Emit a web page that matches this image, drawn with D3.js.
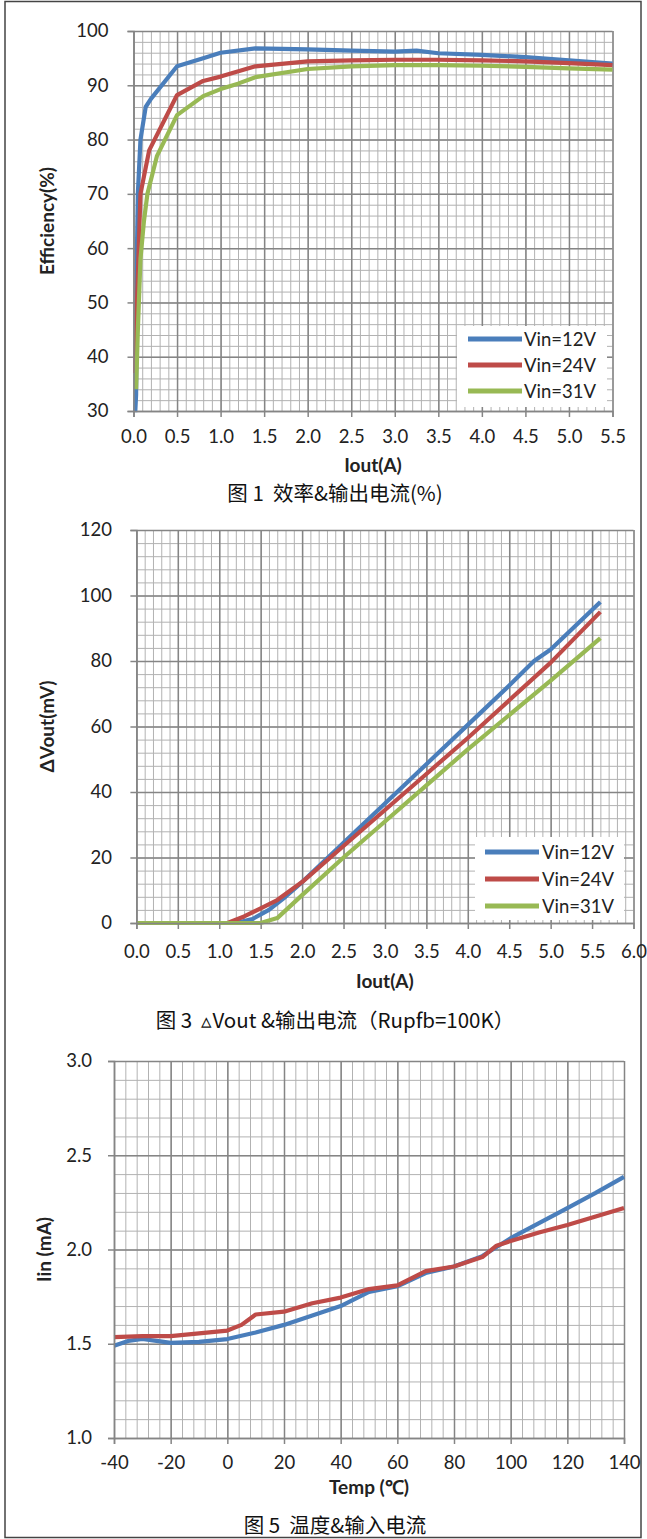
<!DOCTYPE html>
<html><head><meta charset="utf-8">
<script src="https://cdn.jsdelivr.net/npm/d3@7"></script>
<style>
body{margin:0;background:#fff}
svg{display:block}
.tick text{font-family:Lato,"Open Sans",sans-serif;fill:#222}
</style>
</head><body>
<svg id="c" width="647" height="1539"></svg>
<script>
// ---------- shared ----------
const seriesNames = ["Vin=12V", "Vin=24V", "Vin=31V"];
const seriesColors = ["#4a7ebb", "#be4b48", "#98b954"];

// ---------- chart 1: efficiency vs Iout ----------
const effXTicks = [0, 0.5, 1.0, 1.5, 2.0, 2.5, 3.0, 3.5, 4.0, 4.5, 5.0, 5.5];
const effYTicks = [30, 40, 50, 60, 70, 80, 90, 100];
const eff12V = [[0.02,29.8],[0.03,33],[0.04,60],[0.05,70],[0.08,80],[0.14,86],[0.2,87.5],[0.5,93.5],[0.8,95],[1.0,96],[1.4,96.8],[2.0,96.6],[2.5,96.4],[3.0,96.2],[3.25,96.4],[3.5,95.9],[4.0,95.6],[4.5,95.2],[5.0,94.6],[5.5,94.0]];
const eff24V = [[0.02,37],[0.04,50],[0.06,60],[0.08,70],[0.18,78],[0.5,88.2],[0.8,90.8],[1.0,91.6],[1.4,93.5],[2.0,94.4],[2.5,94.6],[3.0,94.7],[3.5,94.7],[4.0,94.6],[4.5,94.4],[5.0,94.1],[5.5,93.7]];
const eff31V = [[0.03,34],[0.05,45],[0.08,58],[0.12,65],[0.16,70],[0.27,77],[0.5,84.5],[0.8,88],[1.0,89.3],[1.2,90.3],[1.4,91.5],[2.0,93],[2.5,93.5],[3.0,93.7],[3.5,93.7],[4.0,93.6],[4.5,93.4],[5.0,93.1],[5.5,92.9]];

// ---------- chart 2: delta Vout vs Iout ----------
const dvXTicks = [0, 0.5, 1.0, 1.5, 2.0, 2.5, 3.0, 3.5, 4.0, 4.5, 5.0, 5.5, 6.0];
const dvYTicks = [0, 20, 40, 60, 80, 100, 120];
const dv12V = [[0,0],[0.5,0],[1.0,0],[1.2,0],[1.4,1.2],[1.6,4],[1.8,8],[2.0,12.5],[2.5,24.5],[3.0,36.5],[3.5,48.5],[4.0,60.5],[4.5,72.5],[4.8,80],[5.0,83.5],[5.6,98]];
const dv24V = [[0,0],[0.5,0],[1.0,0],[1.1,0],[1.3,2],[1.5,4.5],[1.7,7],[2.0,12.5],[2.5,23.5],[3.0,34.5],[3.5,45.5],[4.0,56.5],[4.5,68],[5.0,79.5],[5.6,95]];
const dv31V = [[0,0],[0.5,0],[1.0,0],[1.5,0],[1.7,1.5],[2.0,8.5],[2.5,20],[3.0,31],[3.5,42],[4.0,53],[4.5,63.5],[5.0,74],[5.6,87]];

// ---------- chart 3: Iin vs temperature ----------
const tempXTicks = [-40, -20, 0, 20, 40, 60, 80, 100, 120, 140];
const iinYTicks = [1.0, 1.5, 2.0, 2.5, 3.0];
const tempBlue = [-40,-35,-30,-25,-20,-10,0,10,20,30,40,50,60,70,80,90,100,110,120,130,140];
const iinBlue  = [1.49,1.515,1.525,1.515,1.505,1.51,1.525,1.56,1.60,1.65,1.70,1.775,1.805,1.875,1.91,1.965,2.06,2.14,2.22,2.30,2.385];
const tempRed  = [-40,-30,-20,-10,0,5,10,20,30,40,50,60,70,80,90,95,100,110,120,130,140];
const iinRed   = [1.535,1.54,1.54,1.555,1.57,1.60,1.655,1.67,1.715,1.745,1.79,1.81,1.885,1.91,1.96,2.02,2.045,2.09,2.13,2.175,2.22];

const svg = d3.select("#c");
const latin = "Lato,'Open Sans',sans-serif";

// outer frame
svg.append("rect").attr("x",5).attr("y",1.5).attr("width",636).attr("height",1536)
  .attr("fill","none").attr("stroke","#444").attr("stroke-width",1.5);

function steps(a, b, s){
  const n = Math.round((b - a) / s);
  return d3.range(n + 1).map(i => +(a + i * s).toFixed(6));
}

function drawChart(o){
  const g = svg.append("g");
  const x = d3.scaleLinear().domain(o.xDomain).range(o.xRange);
  const y = d3.scaleLinear().domain(o.yDomain).range(o.yRange);
  const top = o.yRange[1], bottom = o.yRange[0], left = o.xRange[0], right = o.xRange[1];
  const H = bottom - top, W = right - left;

  // minor grid
  g.append("g").attr("transform",`translate(0,${bottom})`)
    .call(d3.axisBottom(x).tickValues(steps(o.xDomain[0], o.xDomain[1], o.xMinor)).tickSize(-H).tickFormat(""))
    .call(s => s.select(".domain").remove())
    .selectAll("line").attr("stroke","#b2b2b2").attr("stroke-width",1);
  g.append("g").attr("transform",`translate(${left},0)`)
    .call(d3.axisLeft(y).tickValues(steps(o.yDomain[0], o.yDomain[1], o.yMinor)).tickSize(-W).tickFormat(""))
    .call(s => s.select(".domain").remove())
    .selectAll("line").attr("stroke","#b2b2b2").attr("stroke-width",1);
  // major grid
  g.append("g").attr("transform",`translate(0,${bottom})`)
    .call(d3.axisBottom(x).tickValues(o.xTicks).tickSize(-H).tickFormat(""))
    .call(s => s.select(".domain").remove())
    .selectAll("line").attr("stroke","#858585").attr("stroke-width",1.5);
  g.append("g").attr("transform",`translate(${left},0)`)
    .call(d3.axisLeft(y).tickValues(o.yTicks).tickSize(-W).tickFormat(""))
    .call(s => s.select(".domain").remove())
    .selectAll("line").attr("stroke","#858585").attr("stroke-width",1.5);

  // series
  const line = d3.line().x(d => x(d[0])).y(d => y(d[1]));
  o.series.forEach((s, i) => {
    g.append("path").datum(s.data).attr("d", line)
      .attr("fill","none").attr("stroke", s.color).attr("stroke-width",4.2)
      .attr("stroke-linejoin","round").attr("stroke-linecap","butt");
  });

  // legend
  if (o.legend){
    const L = o.legend;
    g.append("rect").attr("x",L.x).attr("y",L.y).attr("width",L.w).attr("height",L.h).attr("fill","#fff");
    o.series.forEach((s, i) => {
      const ly = L.y + L.first + i * L.gap;
      g.append("line").attr("x1",L.x + L.lx1).attr("x2",L.x + L.lx2).attr("y1",ly).attr("y2",ly)
        .attr("stroke", s.color).attr("stroke-width",5);
      g.append("text").attr("x",L.x + L.tx).attr("y",ly).attr("dy","0.36em")
        .attr("font-family",latin).attr("font-size",18.5).attr("fill","#222")
        .text(s.name);
    });
  }

  // axes with labels
  const xa = g.append("g").attr("transform",`translate(0,${bottom})`)
    .call(d3.axisBottom(x).tickValues(o.xTicks).tickSize(6).tickPadding(o.xPad).tickFormat(o.xFmt));
  xa.select(".domain").attr("stroke","#858585").attr("stroke-width",1.5);
  xa.selectAll("line").attr("stroke","#858585").attr("stroke-width",1.5);
  xa.selectAll("text").attr("font-size",18.5);
  const ya = g.append("g").attr("transform",`translate(${left},0)`)
    .call(d3.axisLeft(y).tickValues(o.yTicks).tickSize(6).tickPadding(o.yPad).tickFormat(o.yFmt));
  ya.select(".domain").attr("stroke","#858585").attr("stroke-width",1.5);
  ya.selectAll("line").attr("stroke","#858585").attr("stroke-width",1.5);
  ya.selectAll("text").attr("font-size",18.5);

  // titles
  g.append("text").attr("x",(left+right)/2).attr("y",o.xTitleY).attr("text-anchor","middle")
    .attr("font-family",latin).attr("font-weight","bold").attr("font-size",19).attr("fill","#222")
    .text(o.xTitle);
  g.append("text").attr("transform",`translate(${o.yTitleX},${(top+bottom)/2}) rotate(-90)`)
    .attr("text-anchor","middle").attr("dy","0.35em")
    .attr("font-family",latin).attr("font-weight","bold").attr("font-size",19).attr("fill","#222")
    .text(o.yTitle);
  g.append("text").attr("x",335).attr("y",o.capY).attr("text-anchor","middle")
    .attr("font-family","'Noto Sans CJK SC',sans-serif").attr("font-size",20.5).attr("fill","#111")
    .attr("xml:space","preserve").style("white-space","pre")
    .text(o.caption);
}

const f1 = d3.format(".1f");
const fInt = d => String(d);

drawChart({
  xDomain:[0,5.5], yDomain:[30,100], xRange:[133.5,612.5], yRange:[411,31],
  xTicks:effXTicks, yTicks:effYTicks, xMinor:0.1, yMinor:2,
  xFmt:f1, yFmt:fInt, xPad:12.5, yPad:19,
  series: [eff12V, eff24V, eff31V].map((d,i) => ({data:d, color:seriesColors[i], name:seriesNames[i]})),
  legend:{x:457, y:326, w:150, h:81, first:13, gap:26, lx1:11, lx2:65, tx:67},
  xTitle:"Iout(A)", xTitleY:472, yTitle:"Efficiency(%)", yTitleX:47,
  caption:"图 1  效率&输出电流(%)", capY:501
});

drawChart({
  xDomain:[0,6], yDomain:[0,120], xRange:[136.4,633.5], yRange:[923,530],
  xTicks:dvXTicks, yTicks:dvYTicks, xMinor:0.1, yMinor:4,
  xFmt:f1, yFmt:fInt, xPad:15.5, yPad:18.5,
  series: [dv12V, dv24V, dv31V].map((d,i) => ({data:d, color:seriesColors[i], name:seriesNames[i]})),
  legend:{x:475, y:837, w:149, h:83, first:15, gap:27, lx1:10, lx2:64, tx:67},
  xTitle:"Iout(A)", xTitleY:988, yTitle:"ΔVout(mV)", yTitleX:47,
  caption:"图 3  ▵Vout &输出电流（Rupfb=100K）", capY:1028
});

drawChart({
  xDomain:[-40,140], yDomain:[1,3], xRange:[114,624], yRange:[1438,1061],
  xTicks:tempXTicks, yTicks:iinYTicks, xMinor:4, yMinor:0.1,
  xFmt:fInt, yFmt:f1, xPad:12, yPad:16,
  series: [
    {data: tempBlue.map((t,i) => [t, iinBlue[i]]), color:seriesColors[0]},
    {data: tempRed.map((t,i) => [t, iinRed[i]]), color:seriesColors[1]}
  ],
  legend:null,
  xTitle:"Temp (℃)", xTitleY:1494, yTitle:"Iin (mA)", yTitleX:44,
  caption:"图 5  温度&输入电流", capY:1533
});
</script>
</body></html>
